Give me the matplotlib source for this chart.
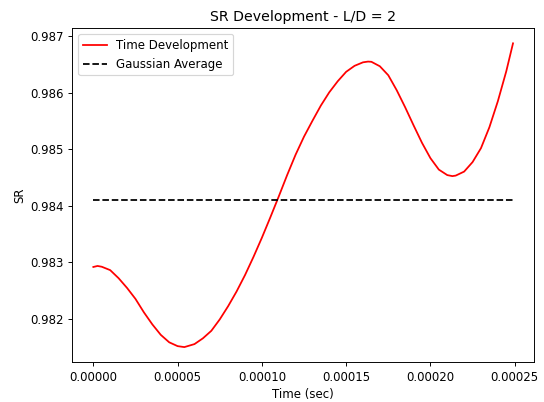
import matplotlib
matplotlib.use("Agg")
import matplotlib.pyplot as plt

# Time samples (s) and SR values of the time development
time_sec = [
    0.0, 2.5e-6, 5e-6, 10e-6, 15e-6, 20e-6, 25e-6, 30e-6, 35e-6, 40e-6,
    45e-6, 50e-6, 54e-6, 60e-6, 65e-6, 70e-6, 75e-6, 80e-6, 85e-6, 90e-6,
    95e-6, 100e-6, 105e-6, 110e-6, 115e-6, 120e-6, 125e-6, 130e-6, 135e-6,
    140e-6, 145e-6, 150e-6, 155e-6, 160e-6, 163e-6, 165e-6, 170e-6, 175e-6,
    180e-6, 185e-6, 190e-6, 195e-6, 200e-6, 205e-6, 210e-6, 213e-6, 215e-6,
    220e-6, 225e-6, 230e-6, 235e-6, 240e-6, 245e-6, 249e-6,
]
sr_values = [
    0.982913, 0.982931, 0.982917, 0.982857, 0.982714, 0.982542, 0.982348,
    0.982110, 0.981897, 0.981712, 0.981580, 0.981512, 0.981495, 0.981548,
    0.981650, 0.981783, 0.981985, 0.982220, 0.982480, 0.982770, 0.983090,
    0.983430, 0.983790, 0.984160, 0.984540, 0.984900, 0.985220, 0.985500,
    0.985770, 0.986005, 0.986200, 0.986367, 0.986473, 0.986535, 0.986548,
    0.986544, 0.986465, 0.986306, 0.986041, 0.985740, 0.985420, 0.985110,
    0.984839, 0.984636, 0.984539, 0.984521, 0.984530, 0.984601, 0.984769,
    0.985016, 0.985387, 0.985846, 0.986376, 0.986871,
]
gaussian_average = 0.98410

fig = plt.figure(figsize=(544 / 85, 402 / 85), dpi=85)
ax = fig.add_subplot(111)
fig.subplots_adjust(left=0.133, right=0.9816, top=0.930, bottom=0.0988)

ax.plot(time_sec, sr_values, color="red", label="Time Development")
ax.plot([time_sec[0], time_sec[-1]], [gaussian_average, gaussian_average],
        "k--", label="Gaussian Average")

ax.set_title("SR Development - L/D = 2")
ax.set_xlabel("Time (sec)")
ax.set_ylabel("SR")
ax.legend(loc="upper left")

fig.savefig("out.png", dpi=85)
